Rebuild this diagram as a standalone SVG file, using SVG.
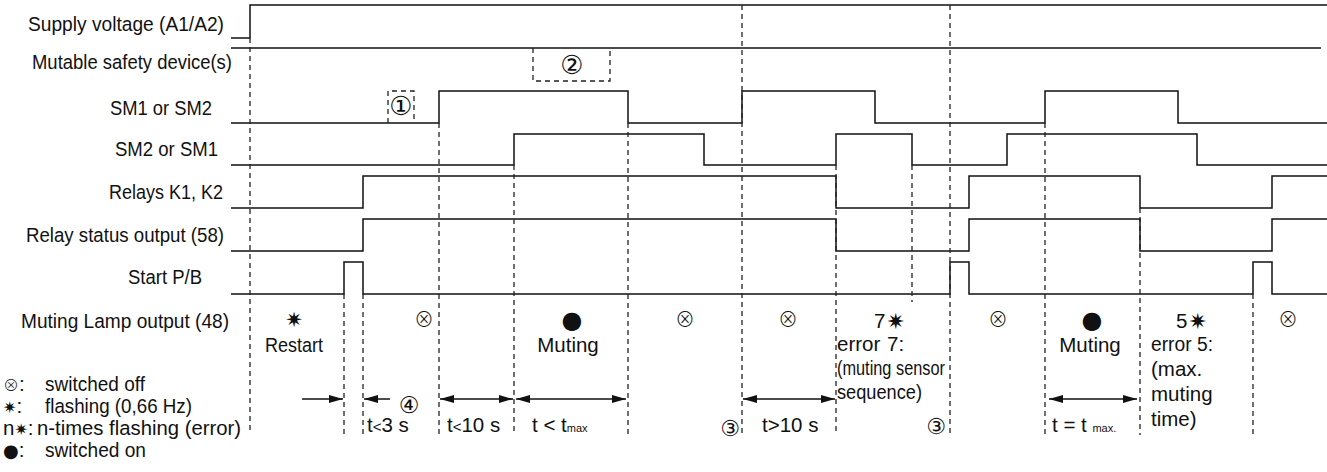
<svg xmlns="http://www.w3.org/2000/svg" width="1327" height="472" viewBox="0 0 1327 472">
<style>
.lbl{font-family:"Liberation Sans",Arial,sans-serif;font-size:20.5px;fill:#111}
.sm{font-family:"Liberation Sans",Arial,sans-serif;font-size:11px;fill:#111}
.sym{font-family:"DejaVu Sans","Noto Sans CJK JP",sans-serif;fill:#111}
.off{font-family:"Noto Sans CJK JP","DejaVu Sans",sans-serif;fill:#111;font-weight:300}
.sig{fill:none;stroke:#111;stroke-width:1.5}
.dash{fill:none;stroke:#222;stroke-width:1.3;stroke-dasharray:5 4}
.arr{fill:none;stroke:#111;stroke-width:1.5}
</style>
<defs>
<marker id="ah" viewBox="0 0 14 8" refX="14" refY="4" markerWidth="14" markerHeight="8" markerUnits="userSpaceOnUse" orient="auto-start-reverse"><path d="M0,0 L14,4 L0,8 z" fill="#111"/></marker>
</defs>

<g id="signal-supply">
<text class="lbl" x="28" y="31" textLength="196" lengthAdjust="spacingAndGlyphs">Supply voltage (A1/A2)</text>
<path class="sig" d="M231,38 H250 V5 H1327"/>
</g>
<g id="signal-mutable">
<text class="lbl" x="32" y="69" textLength="200" lengthAdjust="spacingAndGlyphs">Mutable safety device(s)</text>
<path class="sig" d="M231,48 H1321"/>
<path class="dash" d="M533,48 V81 H610 V48"/>
<text class="sym" x="572" y="74" font-size="26" text-anchor="middle">②</text>
</g>
<g id="signal-sm1">
<text class="lbl" x="110" y="115" textLength="102" lengthAdjust="spacingAndGlyphs">SM1 or SM2</text>
<path class="sig" d="M231,123 H439 V91 H628 V123 H742 V91 H875 V123 H1045 V91 H1178 V123 H1327"/>
<path class="dash" d="M388,123 V91 H414 V123"/>
<text class="sym" x="401" y="115" font-size="26" text-anchor="middle">①</text>
</g>
<g id="signal-sm2">
<text class="lbl" x="115" y="156" textLength="103" lengthAdjust="spacingAndGlyphs">SM2 or SM1</text>
<path class="sig" d="M231,165 H514 V134 H704 V165 H836 V134 H912 V165 H1007 V134 H1197 V165 H1327"/>
</g>
<g id="signal-relays">
<text class="lbl" x="109" y="199" textLength="114" lengthAdjust="spacingAndGlyphs">Relays K1, K2</text>
<path class="sig" d="M231,208 H363 V176 H836 V208 H969 V176 H1140 V208 H1272 V176 H1327"/>
</g>
<g id="signal-status">
<text class="lbl" x="26" y="242" textLength="198" lengthAdjust="spacingAndGlyphs">Relay status output (58)</text>
<path class="sig" d="M231,251 H363 V219 H836 V251 H969 V219 H1140 V251 H1272 V219 H1327"/>
</g>
<g id="signal-start">
<text class="lbl" x="128" y="284" textLength="74" lengthAdjust="spacingAndGlyphs">Start P/B</text>
<path class="sig" d="M231,294 H344 V262 H363 V294 H950 V262 H969 V294 H1253 V262 H1272 V294 H1327"/>
</g>

<g id="connectors">
<path class="dash" d="M250,38 V430 M344,294 V435 M363,294 V435 M439,123 V435 M514,165 V435 M628,123 V435 M742,5 V435 M836,165 V435 M912,165 V302 M950,5 V435 M1045,123 V435 M1140,208 V435 M1253,294 V435"/>
<path class="arr" d="M302,399 H343" marker-end="url(#ah)"/>
<path class="arr" d="M390,399 H364" marker-end="url(#ah)"/>
<path class="arr" d="M440,399 H513" marker-start="url(#ah)" marker-end="url(#ah)"/>
<path class="arr" d="M516,399 H626" marker-start="url(#ah)" marker-end="url(#ah)"/>
<path class="arr" d="M743,399 H835" marker-start="url(#ah)" marker-end="url(#ah)"/>
<path class="arr" d="M1049,399 H1137" marker-start="url(#ah)" marker-end="url(#ah)"/>
</g>

<g id="signal-lamp">
<text class="lbl" x="21" y="328" textLength="208" lengthAdjust="spacingAndGlyphs">Muting Lamp output (48)</text>
<text class="sym" x="294" y="327" font-size="21" text-anchor="middle">✷</text>
<text class="lbl" x="294" y="352" text-anchor="middle" textLength="58" lengthAdjust="spacingAndGlyphs">Restart</text>
<text class="off" x="424" y="327" font-size="20" text-anchor="middle">⊗</text>
<text class="sym" x="572" y="328" font-size="24" text-anchor="middle">●</text>
<text class="lbl" x="568" y="352" text-anchor="middle">Muting</text>
<text class="off" x="685" y="327" font-size="20" text-anchor="middle">⊗</text>
<text class="off" x="788" y="327" font-size="20" text-anchor="middle">⊗</text>
<text class="lbl" x="874" y="328">7<tspan class="sym" font-size="22" dx="1" dy="1">✷</tspan></text>
<text class="lbl" x="837" y="351">error <tspan x="887">7:</tspan></text>
<text class="lbl" x="837" y="375" textLength="108" lengthAdjust="spacingAndGlyphs">(muting sensor</text>
<text class="lbl" x="837" y="399" textLength="85" lengthAdjust="spacingAndGlyphs">sequence)</text>
<text class="off" x="998" y="327" font-size="20" text-anchor="middle">⊗</text>
<text class="sym" x="1092" y="328" font-size="24" text-anchor="middle">●</text>
<text class="lbl" x="1090" y="352" text-anchor="middle">Muting</text>
<text class="lbl" x="1176" y="328">5<tspan class="sym" font-size="22" dx="1" dy="1">✷</tspan></text>
<text class="lbl" x="1151" y="351" textLength="62" lengthAdjust="spacingAndGlyphs">error 5:</text>
<text class="lbl" x="1151" y="376">(max.</text>
<text class="lbl" x="1151" y="401">muting</text>
<text class="lbl" x="1151" y="426">time)</text>
<text class="off" x="1288" y="327" font-size="20" text-anchor="middle">⊗</text>
</g>

<g id="timing-labels">
<text class="sym" x="409" y="413" font-size="23" text-anchor="middle">④</text>
<text class="lbl" x="367" y="432">t<tspan font-size="15">&lt;</tspan>3 s</text>
<text class="lbl" x="447" y="432">t<tspan font-size="15">&lt;</tspan>10 s</text>
<text class="lbl" x="532" y="432">t &lt; t<tspan class="sm">max</tspan></text>
<text class="sym" x="730" y="436" font-size="22" text-anchor="middle">③</text>
<text class="lbl" x="762" y="432">t&gt;10 s</text>
<text class="sym" x="936" y="434" font-size="22" text-anchor="middle">③</text>
<text class="lbl" x="1052" y="432">t = t <tspan class="sm">max.</tspan></text>
</g>

<g id="legend">
<text class="lbl" x="3" y="391"><tspan class="off" font-size="16">⊗</tspan>:</text>
<text class="lbl" x="45" y="391" textLength="100" lengthAdjust="spacingAndGlyphs">switched off</text>
<text class="lbl" x="3" y="413"><tspan class="sym" font-size="16">✷</tspan>:</text>
<text class="lbl" x="45" y="413" textLength="147" lengthAdjust="spacingAndGlyphs">flashing (0,66 Hz)</text>
<text class="lbl" x="3" y="435">n<tspan class="sym" font-size="16">✷</tspan>:</text>
<text class="lbl" x="37" y="435" textLength="204" lengthAdjust="spacingAndGlyphs">n-times flashing (error)</text>
<text class="lbl" x="3" y="457"><tspan class="sym" font-size="18">●</tspan>:</text>
<text class="lbl" x="45" y="457" textLength="101" lengthAdjust="spacingAndGlyphs">switched on</text>
</g>
</svg>
